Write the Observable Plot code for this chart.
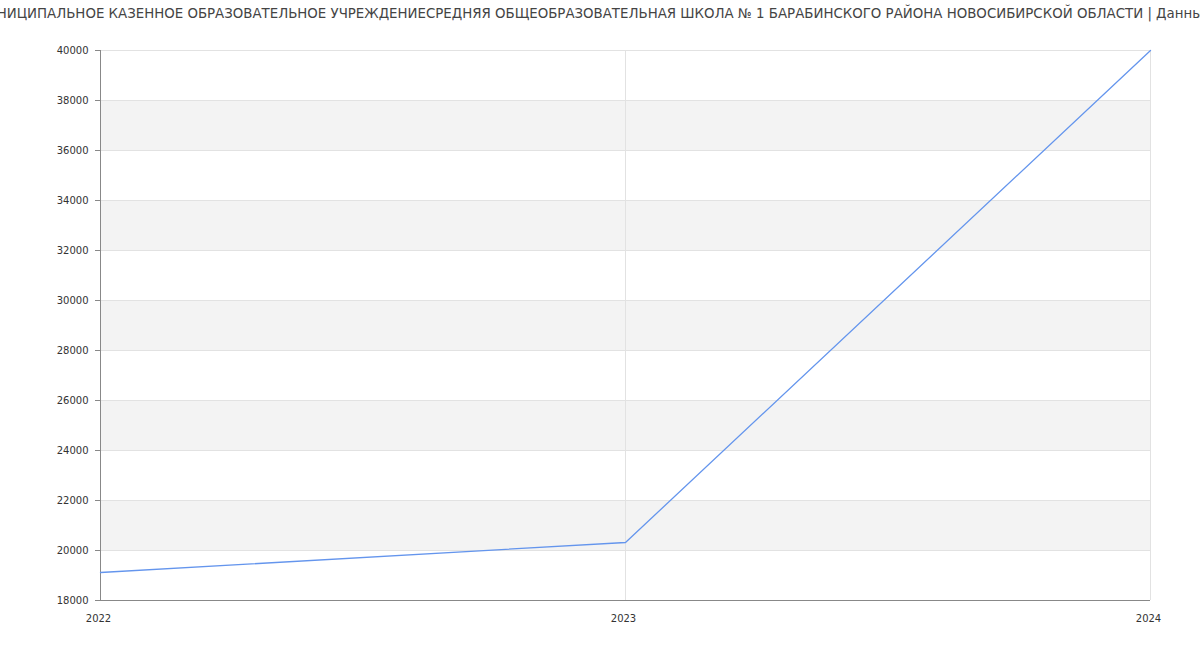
<!DOCTYPE html>
<html>
<head>
<meta charset="utf-8">
<script src="https://cdn.jsdelivr.net/npm/d3@7"></script>
<script src="https://cdn.jsdelivr.net/npm/@observablehq/plot@0.6"></script>
<style>
  html, body { margin: 0; padding: 0; background: #fff; width: 1200px; height: 650px; overflow: hidden; }
  #title { position: relative; height: 30px; width: 1200px; overflow: hidden; }
  #title span { position: absolute; left: -23px; top: 6px; white-space: nowrap; font-family: "DejaVu Sans", sans-serif; font-size: 13.35px; color: #444; }
</style>
</head>
<body>
<div id="title"><span>МУНИЦИПАЛЬНОЕ КАЗЕННОЕ ОБРАЗОВАТЕЛЬНОЕ УЧРЕЖДЕНИЕСРЕДНЯЯ ОБЩЕОБРАЗОВАТЕЛЬНАЯ ШКОЛА № 1 БАРАБИНСКОГО РАЙОНА НОВОСИБИРСКОЙ ОБЛАСТИ | Данные</span></div>
<div id="chart"></div>
<script>
const years = [2022, 2023, 2024];
const values = [19120, 20320, 40000];
const yTicks = [18000, 20000, 22000, 24000, 26000, 28000, 30000, 32000, 34000, 36000, 38000, 40000];
const bandStarts = [20000, 24000, 28000, 32000, 36000];

const data = years.map((y, i) => ({year: y, value: values[i]}));
const bands = bandStarts.map(s => ({y1: s, y2: s + 2000}));

const chart = Plot.plot({
  width: 1200,
  height: 620,
  marginTop: 20,
  marginBottom: 50,
  marginLeft: 100,
  marginRight: 50,
  style: {fontFamily: "DejaVu Sans, sans-serif", fontSize: "10px", color: "#333", background: "#fff"},
  x: {domain: [2022, 2024], ticks: years, tickFormat: "d", label: null},
  y: {domain: [18000, 40000], ticks: yTicks, tickFormat: d => String(d), label: null},
  marks: [
    Plot.rectY(bands, {x1: 2022, x2: 2024, y1: "y1", y2: "y2", fill: "#f3f3f3"}),
    Plot.gridY(yTicks, {stroke: "#e2e2e2", strokeOpacity: 1}),
    Plot.gridX(years, {stroke: "#e2e2e2", strokeOpacity: 1}),
    Plot.axisY(yTicks, {tickSize: 5, tickPadding: 7, stroke: "#888", fill: "#333", tickFormat: d => String(d)}),
    Plot.axisX(years, {tickSize: 0, tickPadding: 14, fill: "#333", tickFormat: "d", dx: -2}),
    Plot.ruleX([2022], {stroke: "#888"}),
    Plot.ruleY([18000], {stroke: "#888"}),
    Plot.line(data, {x: "year", y: "value", stroke: "#6495ed", strokeWidth: 1.3})
  ]
});
document.getElementById("chart").appendChild(chart);
</script>
</body>
</html>
